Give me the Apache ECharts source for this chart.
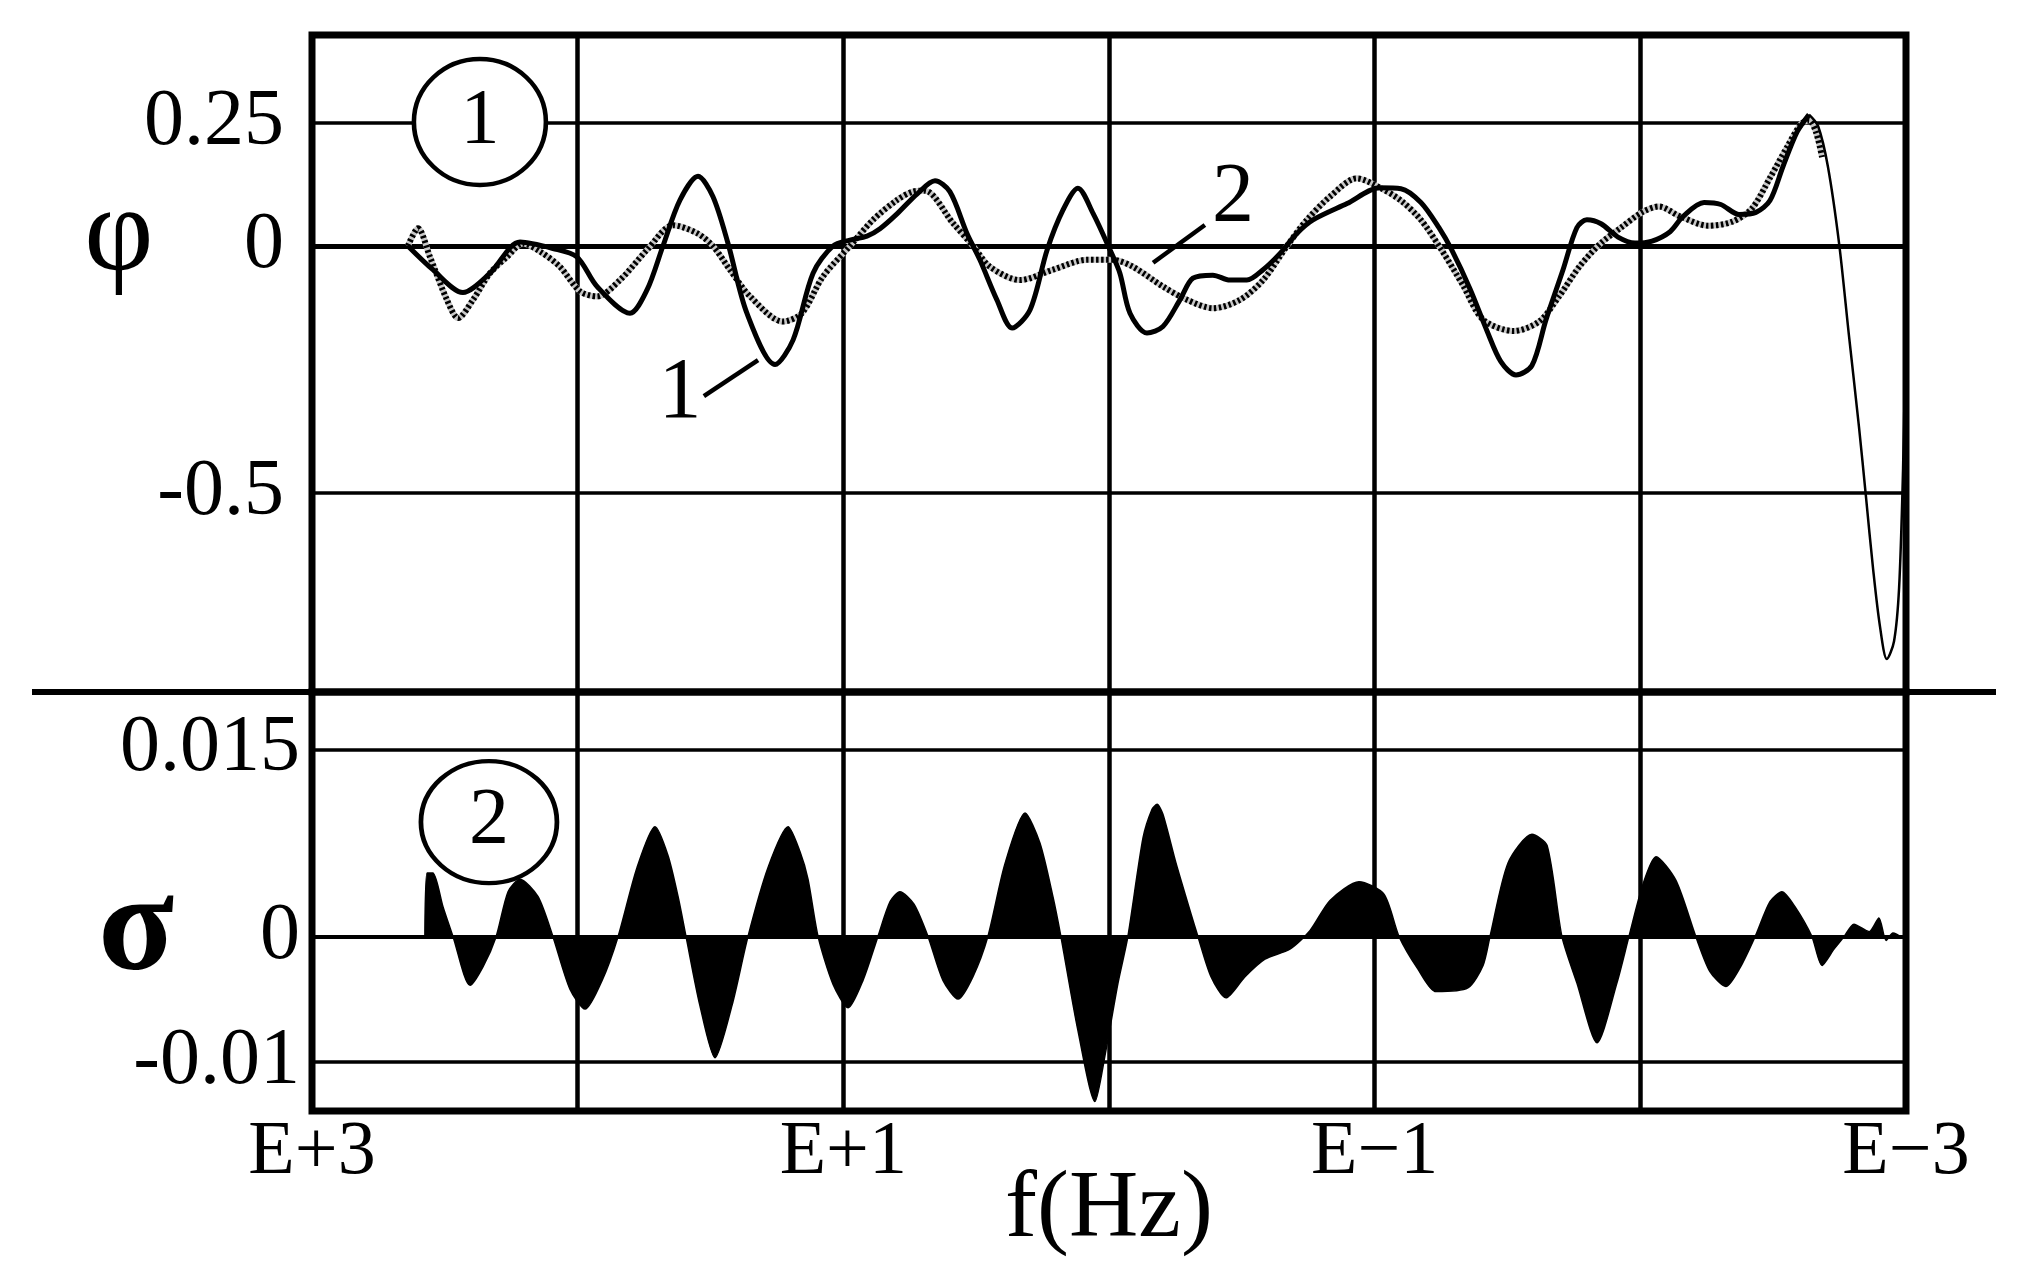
<!DOCTYPE html>
<html>
<head>
<meta charset="utf-8">
<script src="https://cdn.jsdelivr.net/npm/echarts@6.0.0/dist/echarts.min.js"></script>
<style>
  html, body { margin: 0; padding: 0; background: #fff; }
  #chart { width: 2022px; height: 1288px; }
</style>
</head>
<body>
<div id="chart"></div>
<script>
// x is log10(f): E+3 on the left down to E-3 on the right
var logTicks = [3, 1, -1, -3];
var logTickLabels = ['E+3', 'E+1', 'E\u22121', 'E\u22123'];
var phiTicks = [0.25, 0, -0.5];
var phiTickLabels = ['0.25', '0', '-0.5'];
var sigmaTicks = [0.015, 0, -0.01];
var sigmaTickLabels = ['0.015', '0', '-0.01'];

// curve 1 (solid)
var phi1LogF = [2.639, 2.545, 2.432, 2.330, 2.217, 2.093, 2.003, 1.927, 1.803, 1.739, 1.679, 1.615, 1.547, 1.491, 1.434, 1.363, 1.257, 1.189, 1.114, 1.039,
  0.975, 0.911, 0.862, 0.798, 0.723, 0.655, 0.599, 0.535, 0.486, 0.422, 0.365, 0.297, 0.233, 0.173, 0.117, 0.060, -0.004, -0.041, -0.079, -0.143,
  -0.203, -0.267, -0.316, -0.391, -0.455, -0.519, -0.580, -0.644, -0.708, -0.768, -0.896, -1.020, -1.099, -1.174, -1.242, -1.291, -1.359, -1.423, -1.475, -1.532,
  -1.592, -1.645, -1.709, -1.761, -1.799, -1.852, -1.916, -1.980, -2.044, -2.112, -2.161, -2.240, -2.303, -2.371, -2.435, -2.488, -2.537, -2.590, -2.635];
var phi1 = [0, -0.048, -0.094, -0.055, 0.008, -0.005, -0.022, -0.082, -0.136, -0.089, 0, 0.093, 0.141, 0.1, 0.005, -0.136, -0.24, -0.19, -0.055, 0,
  0.012, 0.02, 0.035, 0.065, 0.105, 0.132, 0.11, 0.026, -0.028, -0.109, -0.166, -0.129, -0.008, 0.073, 0.117, 0.066, -0.008, -0.055, -0.136, -0.176,
  -0.163, -0.109, -0.065, -0.059, -0.069, -0.069, -0.048, -0.015, 0.026, 0.053, 0.086, 0.118, 0.116, 0.088, 0.037, -0.009, -0.087, -0.172, -0.234, -0.261,
  -0.242, -0.149, -0.048, 0.037, 0.053, 0.045, 0.018, 0.006, 0.01, 0.029, 0.06, 0.088, 0.084, 0.064, 0.068, 0.092, 0.161, 0.231, 0.266];
// curve 1 after its last peak (thin drop)
var phi1TailLogF = [-2.635, -2.669, -2.706, -2.748, -2.785, -2.823, -2.849, -2.876, -2.902, -2.928, -2.955, -2.974, -2.989, -2.996];
var phi1Tail = [0.266, 0.243, 0.161, 0.006, -0.18, -0.366, -0.506, -0.653, -0.77, -0.836, -0.8, -0.692, -0.45, -0.25];

// curve 2 (hatched)
var phi2LogF = [2.639, 2.601, 2.556, 2.492, 2.450, 2.394, 2.330, 2.266, 2.206, 2.142, 2.067, 1.991, 1.927, 1.841, 1.739, 1.641, 1.551, 1.491, 1.427, 1.351,
  1.227, 1.156, 1.077, 0.975, 0.888, 0.798, 0.738, 0.693, 0.587, 0.512, 0.448, 0.335, 0.211, 0.083, -0.015, -0.090, -0.203, -0.294, -0.391, -0.493,
  -0.580, -0.670, -0.745, -0.832, -0.933, -1.020, -1.099, -1.174, -1.253, -1.332, -1.408, -1.524, -1.619, -1.694, -1.773, -1.852, -1.927, -2.006, -2.070, -2.149,
  -2.255, -2.345, -2.420, -2.488, -2.552, -2.605, -2.635, -2.661, -2.684];
var phi2 = [0, 0.036, -0.022, -0.109, -0.146, -0.109, -0.055, -0.022, 0.005, -0.011, -0.042, -0.092, -0.102, -0.069, -0.008, 0.042, 0.026, 0, -0.048, -0.102,
  -0.153, -0.136, -0.062, 0, 0.053, 0.093, 0.11, 0.112, 0.046, 0, -0.042, -0.069, -0.048, -0.028, -0.028, -0.042, -0.082, -0.109, -0.126, -0.109,
  -0.069, 0, 0.053, 0.1, 0.137, 0.118, 0.092, 0.053, -0.009, -0.079, -0.149, -0.172, -0.153, -0.102, -0.04, 0.006, 0.037, 0.068, 0.08, 0.06,
  0.041, 0.049, 0.076, 0.138, 0.2, 0.247, 0.254, 0.231, 0.18];

// lower panel sigma
var sigmaLogF = [2.575, 2.567, 2.545, 2.507, 2.469, 2.405, 2.356, 2.307, 2.262, 2.217, 2.149, 2.093, 2.029, 1.972, 1.908, 1.848, 1.777, 1.709, 1.660, 1.622,
  1.592, 1.540, 1.483, 1.419, 1.359, 1.284, 1.208, 1.163, 1.133, 1.095, 1.039, 0.982, 0.926, 0.870, 0.824, 0.787, 0.734, 0.681, 0.625, 0.568,
  0.512, 0.456, 0.392, 0.316, 0.260, 0.211, 0.181, 0.117, 0.053, 0.015, -0.034, -0.071, -0.128, -0.162, -0.181, -0.203, -0.252, -0.309, -0.335, -0.384,
  -0.440, -0.512, -0.587, -0.681, -0.757, -0.832, -0.941, -1.035, -1.092, -1.163, -1.231, -1.351, -1.408, -1.434, -1.502, -1.592, -1.649, -1.705, -1.761, -1.837,
  -1.912, -1.957, -2.010, -2.059, -2.134, -2.209, -2.262, -2.322, -2.375, -2.432, -2.488, -2.533, -2.582, -2.646, -2.684, -2.729, -2.767, -2.804, -2.861, -2.898,
  -2.925, -2.951, -2.989];
var sigma = [0, 0.0051, 0.0051, 0.0024, 0, -0.0039, -0.0024, 0, 0.0036, 0.0046, 0.0032, 0, -0.0042, -0.0058, -0.0035, 0, 0.0055, 0.0088, 0.0065, 0.0032,
  0, -0.0055, -0.0097, -0.0055, 0, 0.0055, 0.0088, 0.0068, 0.0046, 0, -0.0038, -0.0057, -0.0035, 0, 0.0028, 0.0036, 0.0026, 0, -0.0035, -0.005,
  -0.0032, 0, 0.0058, 0.0099, 0.0075, 0.0032, 0, -0.0075, -0.0132, -0.0095, -0.0037, 0, 0.0079, 0.0102, 0.0106, 0.0098, 0.0059, 0.0018, 0, -0.0032,
  -0.0049, -0.0032, -0.0018, -0.001, 0.0005, 0.0029, 0.0044, 0.0034, 0, -0.0026, -0.0044, -0.0041, -0.0023, 0, 0.0059, 0.0082, 0.0073, 0, -0.0037, -0.0085,
  -0.0037, 0, 0.0042, 0.0064, 0.0045, 0, -0.0028, -0.004, -0.0025, 0, 0.0028, 0.0036, 0.0024, 0, -0.0023, -0.001, 0, 0.001, 0.0004, 0.0015,
  -0.0003, 0.0003, -0.0001];

function pairs(xs, ys) {
  return xs.map(function (x, i) { return [x, ys[i]]; });
}
function tickFormatter(ticks, labels) {
  return function (v) {
    for (var i = 0; i < ticks.length; i++) {
      if (Math.abs(ticks[i] - v) < 1e-9) return labels[i];
    }
    return '';
  };
}

var serif = 'Liberation Serif';
var black = '#000';

function xAxisOf(gridIndex, withLabels) {
  return {
    gridIndex: gridIndex,
    type: 'value',
    min: -3,
    max: 3,
    interval: 1,
    inverse: true,
    axisLine: { show: false },
    axisTick: { show: false },
    splitLine: { show: true, lineStyle: { color: black, width: 4.5 } },
    axisLabel: withLabels ? {
      show: true,
      customValues: logTicks,
      formatter: tickFormatter(logTicks, logTickLabels),
      color: black, fontFamily: serif, fontSize: 76, margin: 4
    } : { show: false },
    name: withLabels ? 'f(Hz)' : '',
    nameLocation: 'middle',
    nameGap: 52,
    nameMoveOverlap: false,
    nameTextStyle: { color: black, fontFamily: serif, fontSize: 96, verticalAlign: 'top' }
  };
}

function yAxisOf(gridIndex, min, max, ticks, labels, margin) {
  return {
    gridIndex: gridIndex,
    type: 'value',
    min: min,
    max: max,
    axisLine: { show: false },
    axisTick: { show: false },
    splitLine: { show: false },
    axisLabel: {
      customValues: ticks,
      formatter: tickFormatter(ticks, labels),
      color: black, fontFamily: serif, fontSize: 80, margin: margin
    }
  };
}

function gridLines(ticks, widths) {
  return {
    silent: true,
    z: 1,
    precision: 6,
    symbol: ['none', 'none'],
    label: { show: false },
    lineStyle: { color: black, type: 'solid' },
    data: ticks.map(function (v, i) { return { yAxis: v, lineStyle: { width: widths[i] } }; })
  };
}

var chart = echarts.init(document.getElementById('chart'));
var option = {
  backgroundColor: '#fff',
  animation: false,
  grid: [
    { left: 312, top: 35, width: 1594, height: 657, show: true, borderColor: black, borderWidth: 7 },
    { left: 312, top: 692, width: 1594, height: 419, show: true, borderColor: black, borderWidth: 7 }
  ],
  xAxis: [xAxisOf(0, false), xAxisOf(1, true)],
  yAxis: [
    yAxisOf(0, -0.9028, 0.4271, phiTicks, phiTickLabels, 28),
    yAxisOf(1, -0.01396, 0.01959, sigmaTicks, sigmaTickLabels, 12)
  ],
  graphic: [
    { type: 'line', z: 100, shape: { x1: 32, y1: 692, x2: 1996, y2: 692 }, style: { stroke: black, lineWidth: 6 } },
    { type: 'text', z: 100, x: 119, y: 237, style: { text: '\u03C6', fill: black, fontFamily: serif, fontSize: 120, align: 'center', verticalAlign: 'middle' } },
    { type: 'text', z: 100, x: 136, y: 933, style: { text: '\u03C3', fill: black, fontFamily: serif, fontWeight: 'bold', fontSize: 140, align: 'center', verticalAlign: 'middle' } }
  ],
  series: [
    {
      name: 'curve 2 base',
      type: 'line',
      xAxisIndex: 0, yAxisIndex: 0,
      data: pairs(phi2LogF, phi2),
      symbol: 'none', smooth: 0.3, z: 2, silent: true,
      lineStyle: { color: '#c8c8c8', width: 6 },
      markLine: gridLines(phiTicks, [3.5, 5, 3.5])
    },
    {
      name: 'curve 2',
      type: 'line',
      xAxisIndex: 0, yAxisIndex: 0,
      data: pairs(phi2LogF, phi2),
      symbol: 'none', smooth: 0.3, z: 3, silent: true,
      lineStyle: { color: black, width: 6, type: [2.5, 2.5] }
    },
    {
      name: 'curve 1',
      type: 'line',
      xAxisIndex: 0, yAxisIndex: 0,
      data: pairs(phi1LogF, phi1),
      symbol: 'none', smooth: 0.3, z: 4, silent: true,
      lineStyle: { color: black, width: 5 },
      markLine: {
        silent: true, z: 10,
        symbol: ['none', 'none'],
        label: { show: false },
        lineStyle: { color: black, width: 4.5, type: 'solid' },
        data: [
          [{ coord: [1.525, -0.304] }, { coord: [1.321, -0.231] }],
          [{ coord: [-0.166, -0.034] }, { coord: [-0.361, 0.0425] }]
        ]
      },
      markPoint: {
        silent: true, z: 10,
        label: { color: black, fontFamily: serif },
        data: [
          { coord: [2.368, 0.251], symbol: 'circle', symbolSize: [132, 126],
            itemStyle: { color: '#fff', borderColor: black, borderWidth: 4.5 },
            label: { formatter: '1', fontSize: 78 } },
          { coord: [1.615, -0.301], symbol: 'circle', symbolSize: 2,
            itemStyle: { color: 'rgba(0,0,0,0)' },
            label: { formatter: '1', fontSize: 86 } },
          { coord: [-0.467, 0.095], symbol: 'circle', symbolSize: 2,
            itemStyle: { color: 'rgba(0,0,0,0)' },
            label: { formatter: '2', fontSize: 84 } }
        ]
      }
    },
    {
      name: 'curve 1 tail',
      type: 'line',
      xAxisIndex: 0, yAxisIndex: 0,
      data: pairs(phi1TailLogF, phi1Tail),
      symbol: 'none', smooth: 0.3, z: 4, silent: true,
      lineStyle: { color: black, width: 2.5 }
    },
    {
      name: 'sigma',
      type: 'line',
      xAxisIndex: 1, yAxisIndex: 1,
      data: pairs(sigmaLogF, sigma),
      symbol: 'none', smooth: 0.25, z: 4, silent: true,
      lineStyle: { color: black, width: 1.5 },
      areaStyle: { color: black, opacity: 1, origin: 0 },
      markLine: gridLines(sigmaTicks, [3.5, 4, 3.5]),
      markPoint: {
        silent: true, z: 10,
        label: { color: black, fontFamily: serif },
        data: [
          { coord: [2.334, 0.00918], symbol: 'circle', symbolSize: [136, 122],
            itemStyle: { color: '#fff', borderColor: black, borderWidth: 4.5 },
            label: { formatter: '2', fontSize: 80 } }
        ]
      }
    }
  ]
};
chart.setOption(option);
</script>
</body>
</html>
